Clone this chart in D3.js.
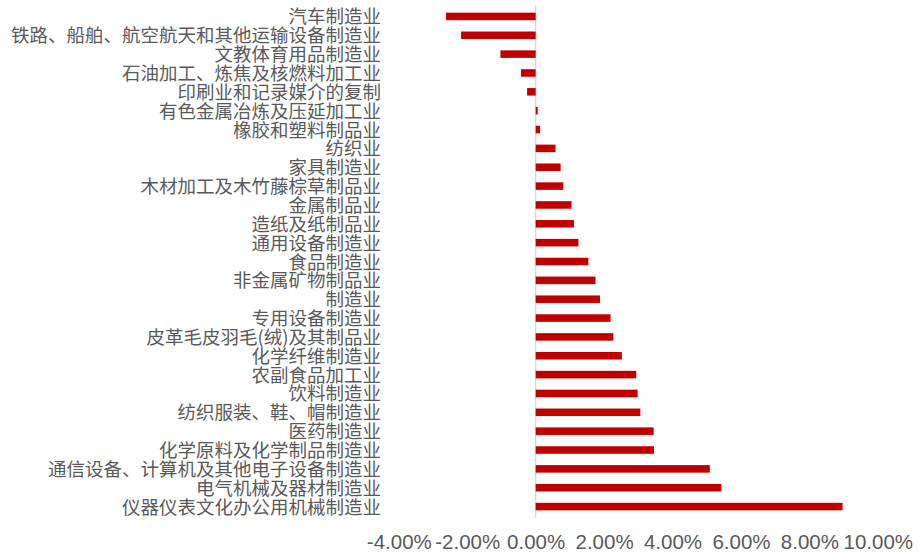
<!DOCTYPE html>
<head>
<meta charset="utf-8">
<title>行业增速</title>
<style>
body {
  margin: 0;
  padding: 0;
  background: #fff;
}
.cat text {
  font-family: "Noto Sans CJK SC", sans-serif;
  font-size: 18.5px;
  fill: #595959;
}
.xaxis text {
  font-family: "Liberation Sans", Arial, sans-serif;
  font-size: 20.5px;
  fill: #595959;
}
</style>
</head>
<body>
<svg id="viz" width="919" height="552"></svg>
<script src="https://d3js.org/d3.v7.min.js"></script>
<script>

var industries = [
  '汽车制造业',
  '铁路、船舶、航空航天和其他运输设备制造业',
  '文教体育用品制造业',
  '石油加工、炼焦及核燃料加工业',
  '印刷业和记录媒介的复制',
  '有色金属冶炼及压延加工业',
  '橡胶和塑料制品业',
  '纺织业',
  '家具制造业',
  '木材加工及木竹藤棕草制品业',
  '金属制品业',
  '造纸及纸制品业',
  '通用设备制造业',
  '食品制造业',
  '非金属矿物制品业',
  '制造业',
  '专用设备制造业',
  '皮革毛皮羽毛(绒)及其制品业',
  '化学纤维制造业',
  '农副食品加工业',
  '饮料制造业',
  '纺织服装、鞋、帽制造业',
  '医药制造业',
  '化学原料及化学制品制造业',
  '通信设备、计算机及其他电子设备制造业',
  '电气机械及器材制造业',
  '仪器仪表文化办公用机械制造业'
]

// percent
var growth = [
  -2.62, -2.18, -1.03, -0.43, -0.25, 0.06, 0.13, 0.58, 0.73, 0.81,
  1.05, 1.12, 1.25, 1.54, 1.75, 1.88, 2.19, 2.27, 2.52, 2.94,
  2.98, 3.06, 3.45, 3.46, 5.09, 5.43, 8.97
]

var xTicks = [-4, -2, 0, 2, 4, 6, 8, 10]

var rows = industries.map(function(d, i) {
  return { name: d, value: growth[i] }
})

var svg = d3.select('#viz')

var x = d3.scaleLinear()
    .domain([-4, 10])
    .range([398.8, 877.8])

var y = d3.scaleBand()
    .domain(industries)
    .range([7, 516])
    .paddingInner(0.6)
    .paddingOuter(0.3)

// zero line
svg.append('line')
    .attr('x1', x(0)).attr('x2', x(0))
    .attr('y1', 5).attr('y2', 518)
    .attr('stroke', '#d9d9d9')
    .attr('stroke-width', 1.5)

svg.append('g')
  .selectAll('rect')
  .data(rows)
  .enter().append('rect')
    .attr('x', function(d) { return x(Math.min(0, d.value)) })
    .attr('y', function(d) { return y(d.name) })
    .attr('width', function(d) { return Math.abs(x(d.value) - x(0)) })
    .attr('height', y.bandwidth())
    .attr('fill', '#c00000')

var cat = svg.append('g')
    .attr('class', 'cat')
    .attr('transform', 'translate(381,0)')
    .call(d3.axisLeft(y).tickSize(0).tickPadding(0))
cat.select('.domain').remove()
cat.selectAll('text').attr('dy', '0.38em')

var xa = svg.append('g')
    .attr('class', 'xaxis')
    .attr('transform', 'translate(0,530)')
    .call(d3.axisBottom(x)
      .tickValues(xTicks)
      .tickSize(0)
      .tickPadding(4)
      .tickFormat(function(d) { return d.toFixed(2) + '%' }))
xa.select('.domain').remove()
xa.selectAll('text').attr('dy', '0.71em')

</script>
</body>
</html>
